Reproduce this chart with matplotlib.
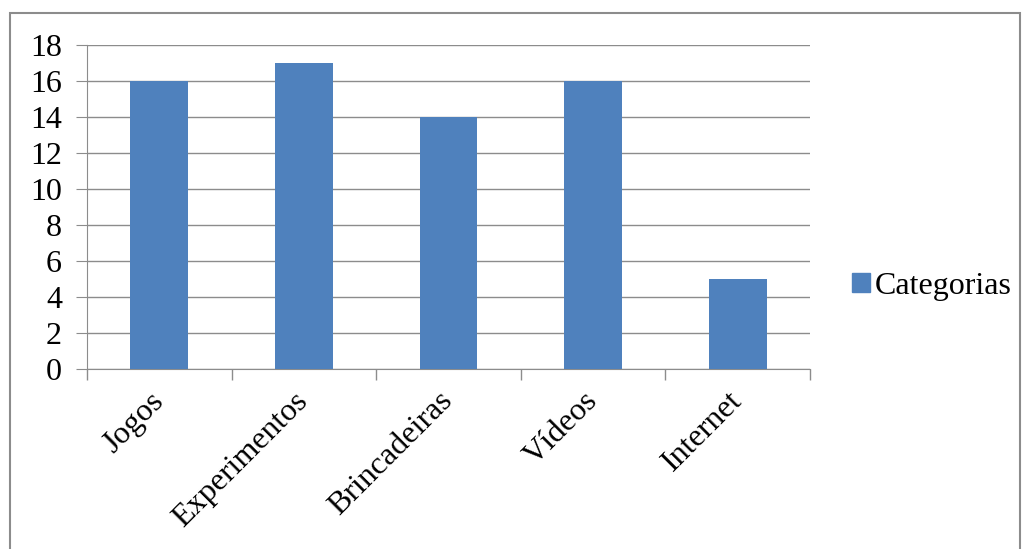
import matplotlib.pyplot as plt
from matplotlib.patches import Rectangle, Patch

# Dados do gráfico
categorias = ['Jogos', 'Experimentos', 'Brincadeiras', 'Vídeos', 'Internet']
valores = [16, 17, 14, 16, 5]
serie = 'Categorias'

plt.rcParams['font.family'] = ['Liberation Serif', 'DejaVu Serif']

fig = plt.figure(figsize=(10.27, 5.49), dpi=100)
ax = fig.add_axes([0.0847, 0.3279, 0.704, 0.5903])

# moldura externa do gráfico
fig.patches.append(Rectangle((10 / 1027, -0.01), 1010 / 1027, 1 - 13 / 549 + 0.01,
                             transform=fig.transFigure, fill=False,
                             edgecolor='#8c8c8c', linewidth=1.5))

x = range(len(categorias))
ax.bar(x, valores, width=0.4, color='#4F81BD', zorder=3)

ax.set_xlim(-0.5, len(categorias) - 0.5)
ax.set_ylim(0, 18)
ax.set_yticks(range(0, 19, 2))
ax.yaxis.grid(True, color='#8c8c8c', linewidth=1)
ax.set_axisbelow(True)

# ticks do eixo x nas divisões entre categorias
ax.set_xticks([i - 0.5 for i in range(len(categorias) + 1)])
ax.set_xticklabels([])
ax.set_xticks(list(x), minor=True)
ax.set_xticklabels(categorias, minor=True, rotation=45, ha='right', va='center',
                   rotation_mode='anchor', fontsize=23)
ax.tick_params(axis='x', which='major', length=8, color='#8c8c8c', width=1)
ax.tick_params(axis='x', which='minor', length=0, pad=20)
ax.tick_params(axis='y', length=8, color='#8c8c8c', labelsize=23, pad=10)

for s in ['top', 'right']:
    ax.spines[s].set_visible(False)
for s in ['left', 'bottom']:
    ax.spines[s].set_color('#8c8c8c')

fig.legend(handles=[Patch(color='#4F81BD', label=serie)], loc='center left',
           bbox_to_anchor=(0.830, 0.479), frameon=False, fontsize=23,
           handlelength=0.55, handleheight=0.55, handletextpad=0.15,
           borderpad=0, borderaxespad=0)

fig.savefig('out.png', dpi=100)
